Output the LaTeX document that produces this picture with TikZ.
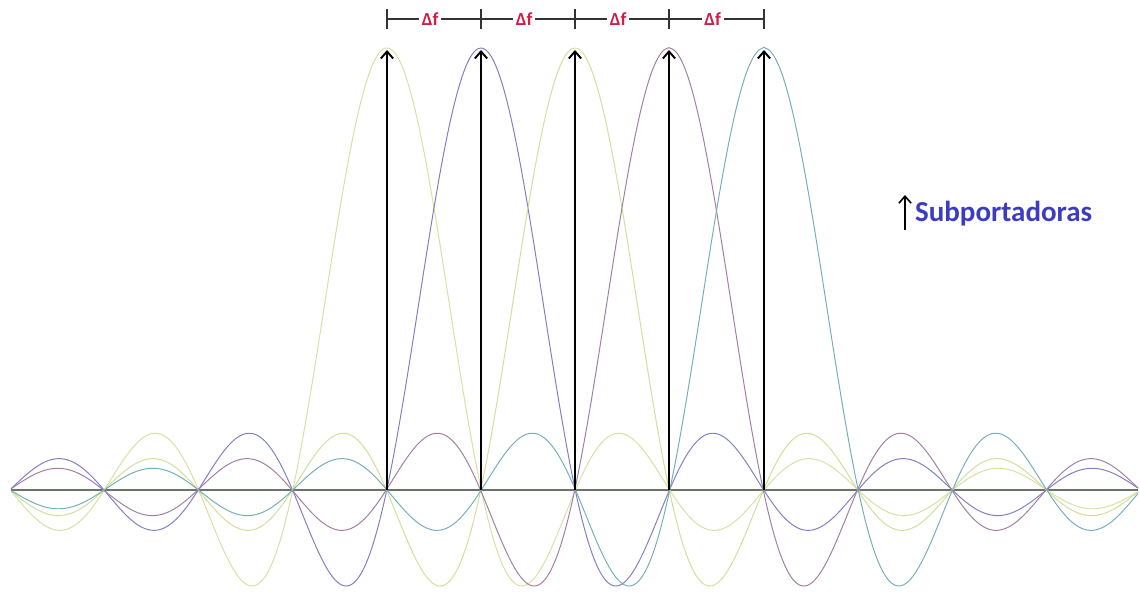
\documentclass[tikz,border=0pt]{standalone}
\usepackage{fontspec}
\setmainfont{Carlito}
\usetikzlibrary{arrows.meta}

\definecolor{subA}{RGB}{214,224,160}
\definecolor{subB}{RGB}{125,125,195}
\definecolor{subC}{RGB}{208,222,150}
\definecolor{subD}{RGB}{160,125,160}
\definecolor{subE}{RGB}{115,172,188}
\definecolor{axisgray}{RGB}{105,115,105}
\definecolor{deltared}{RGB}{205,30,70}
\definecolor{legblue}{RGB}{60,60,195}

\begin{document}
\begin{tikzpicture}[
        x=0.02cm, y=0.02cm,
        declare function={sincf(\u)=sin(180*\u)/(pi*\u);},
        carrier/.style={black, line width=1.1pt, -{Straight Barb[length=4pt,width=7pt]}},
        spectrum/.style={line width=0.55pt, samples=700, domain=11:1138, smooth},
        axis/.style={axisgray, line width=0.8pt},
        bracket/.style={black!80, line width=0.8pt},
        spacing/.style={font=\fontsize{10.5}{12}\selectfont\bfseries, text=deltared, fill=white, inner sep=1.5pt},
        legend/.style={font=\fontsize{16.5}{19}\selectfont\bfseries, text=legblue, inner sep=1pt},
    ]
    \useasboundingbox (0,0) rectangle (1140,597);

    % frequency axis
    \coordinate (ax0) at (11,107);
    \coordinate (ax1) at (1138,107);
    \draw[axis] (ax0) -- (ax1);

    % sinc spectrum of each subcarrier
    \foreach \c/\col in {387/subA, 481/subB, 575/subC, 669/subD, 764/subE}
        \draw[spectrum, \col] plot (\x, {442*sincf((\x-\c)/94.25+0.0001)+107});

    % subcarriers and tick marks of the spacing bracket
    \foreach \c [count=\i] in {387,481,575,669,764} {
        \coordinate (base\i) at (\c,107);
        \coordinate (peak\i) at (\c,547);
        \draw[carrier] (base\i) -- (peak\i);
        \coordinate (tick\i) at (\c,578);
        \coordinate (ticklo\i) at (\c,568);
        \coordinate (tickhi\i) at (\c,588);
        \draw[bracket] (ticklo\i) -- (tickhi\i);
    }

    % spacing between neighbouring subcarriers
    \foreach \i/\j in {1/2, 2/3, 3/4, 4/5}
        \draw[bracket] (tick\i) -- node[spacing, pos=0.46] (df\i) {Δf} (tick\j);

    % legend
    \coordinate (leg0) at (905,367);
    \coordinate (leg1) at (905,402);
    \draw[carrier, line width=0.9pt] (leg0) -- (leg1);
    \node[legend, anchor=west] (legtext) at (913,383) {Subportadoras};
\end{tikzpicture}
\end{document}
